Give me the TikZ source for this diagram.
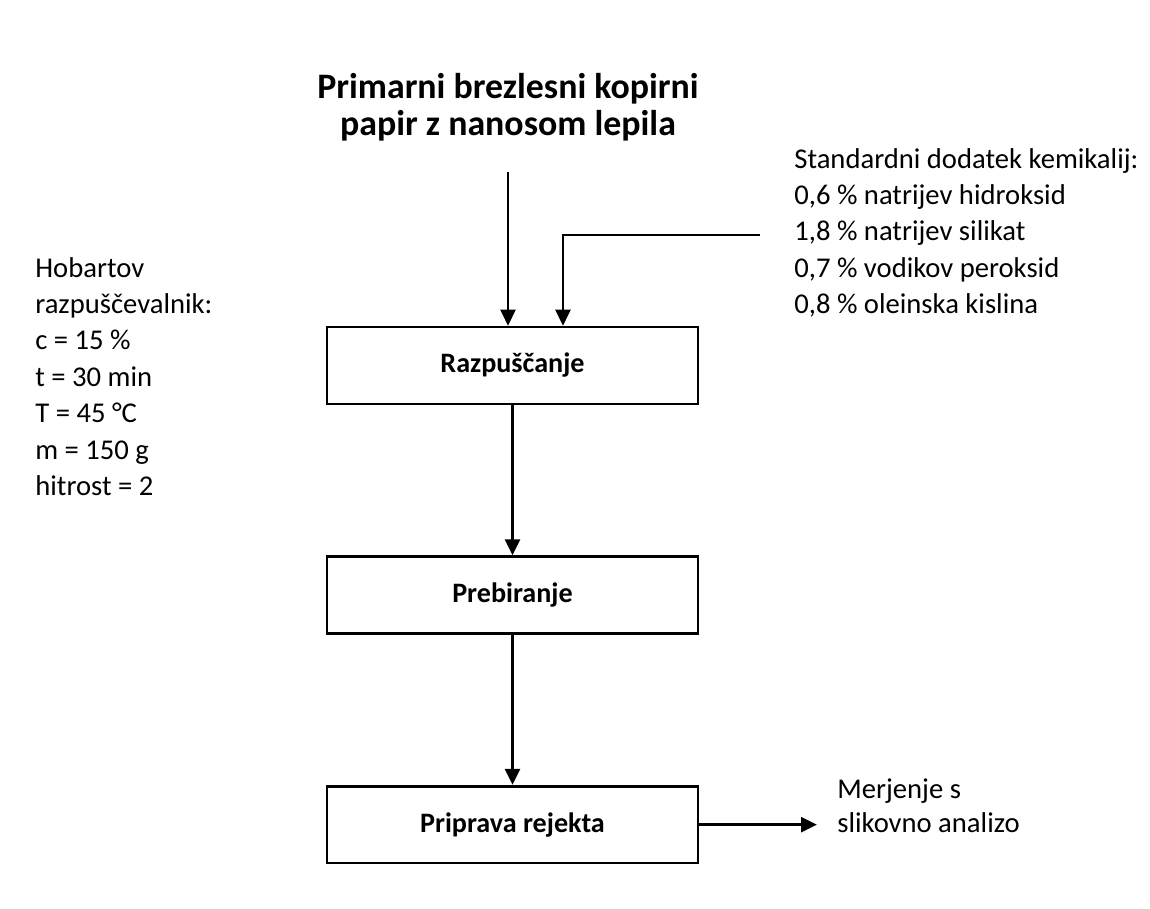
\documentclass[tikz,border=0pt]{standalone}
\usepackage{fontspec}
\setmainfont{Carlito}
\usetikzlibrary{arrows.meta,positioning}
\tikzset{
  stage/.style={draw, line width=1.5pt, minimum width=7.42cm, minimum height=1.54cm,
                font=\fontsize{16}{18}\selectfont\bfseries},
  note/.style={align=left, inner sep=0pt, anchor=north west,
               font=\fontsize{16.3}{20.7}\selectfont},
  head/.style={align=center, inner sep=0pt, anchor=north,
               font=\fontsize{20.4}{21.2}\selectfont\bfseries},
  arr/.style={-{Triangle[length=3.2mm,width=3mm]}, line width=1.5pt},
}

\begin{document}
\begin{tikzpicture}[x=0.02cm, y=-0.02cm, node distance=3cm]
  \useasboundingbox (0,0) rectangle (1150,909);

  % title and process stages
  \node[head] (src) at (508,73) {Primarni brezlesni kopirni\\papir z nanosom lepila};
  \node[stage] (dis) at (512.5,365.5) {Razpuščanje};
  \node[stage, below=of dis] (sort) {Prebiranje};
  \node[stage, below=of sort] (rej) {Priprava rejekta};

  % side notes
  \node[note] (hob) at (35,257) {Hobartov\\razpuščevalnik:\\c = 15 \%\\t = 30 min\\T = 45 °C\\m = 150 g\\hitrost = 2};
  \node[note] (chem) at (794,148) {Standardni dodatek kemikalij:\\0,6 \% natrijev hidroksid\\1,8 \% natrijev silikat\\0,7 \% vodikov peroksid\\0,8 \% oleinska kislina};
  \node[note, font=\fontsize{16.3}{19.8}\selectfont] (meas) at (837,778) {Merjenje s\\slikovno analizo};

  \coordinate (feed) at (760,235);

  \draw[arr] ([yshift=-0.6cm]src.south) -- (src.south |- dis.north);
  \draw[arr] (feed) -| ([xshift=1.01cm]dis.north);
  \draw[arr] (dis) -- (sort);
  \draw[arr] (sort) -- (rej);
  \draw[arr] (rej.east) -- ([xshift=-4mm]meas.west |- rej.east);
\end{tikzpicture}
\end{document}
